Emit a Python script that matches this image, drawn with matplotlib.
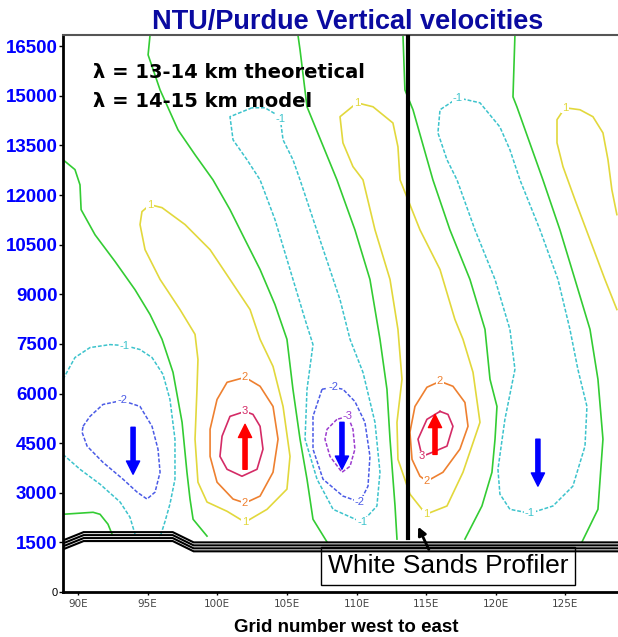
import matplotlib.pyplot as plt

plt.rcParams['font.family'] = ['Liberation Sans', 'DejaVu Sans']

# axis ticks ................................................................
height_ticks = [0, 1500, 3000, 4500, 6000, 7500, 9000, 10500, 12000, 13500, 15000, 16500]
grid_ticks = [90, 95, 100, 105, 110, 115, 120, 125]
grid_labels = ['90E', '95E', '100E', '105E', '110E', '115E', '120E', '125E']

# x = grid number, z = height (m)
# w = 0
w0_a_x = [88.92, 89.78, 90.14, 90.22, 91.22, 92.66, 94.09, 95.17, 96.03, 96.82, 97.47, 97.82, 98.04, 98.26, 99.26]
w0_a_z = [13070, 12770, 12310, 11560, 10800, 9990, 9140, 8390, 7640, 6640, 5130, 3620, 2810, 2200, 1690]
w0_b_x = [95.17, 95.03, 95.89, 97.18, 98.40, 99.69, 100.91, 101.99, 103.07, 104.14, 105.0, 105.43, 105.94, 106.44, 106.87, 107.88]
w0_b_z = [16840, 16240, 15180, 13970, 13220, 12460, 11560, 10650, 9750, 8690, 7640, 6130, 4620, 3410, 2200, 1510]
w0_c_x = [105.79, 105.94, 106.44, 108.59, 109.88, 110.96, 111.68, 112.18, 112.40, 112.76, 112.90]
w0_c_z = [16840, 16390, 14670, 12460, 10950, 9450, 7640, 6130, 4620, 2600, 1600]
w0_d_x = [113.33, 113.47, 114.05, 115.48, 116.70, 118.14, 119.22, 119.58, 120.08, 119.94, 119.72, 119.0, 117.78]
w0_d_z = [16840, 15180, 14580, 12460, 10950, 9450, 7940, 6430, 5610, 4620, 3620, 2600, 1600]
w0_e_x = [121.37, 121.23, 121.51, 123.38, 124.60, 125.68, 126.76, 127.33, 127.69, 127.33, 126.18]
w0_e_z = [16840, 14970, 14670, 12460, 10950, 9450, 7940, 6430, 4620, 2500, 1510]
w0_f_x = [88.92, 91.08, 91.58, 92.15, 92.44]
w0_f_z = [2350, 2410, 2350, 2050, 1750]

# w = +1
p1_a_x = [95.17, 94.59, 94.45, 94.81, 95.89, 97.32, 98.40, 98.61, 98.54, 98.40, 98.61, 99.26, 100.70, 101.99,
          103.57, 105.0, 105.22, 104.72, 104.0, 103.07, 102.35, 100.91, 99.48, 97.68, 96.03, 95.17]
p1_a_z = [11710, 11500, 11110, 10350, 9450, 8540, 7790, 7030, 6130, 4620, 3320, 2720, 2440, 2110,
          2500, 3110, 4100, 5610, 6820, 7640, 8540, 9450, 10350, 11110, 11620, 11710]
p1_b_x = [110.03, 108.81, 109.02, 109.74, 110.46, 111.32, 112.40, 112.97, 113.26, 112.90, 112.97, 113.83, 114.98,
          116.49, 117.64, 118.86, 118.36, 117.64, 117.06, 115.99, 114.55, 113.12, 112.97, 112.61, 111.18, 110.03]
p1_b_z = [14790, 14370, 13580, 12860, 12460, 10950, 9450, 7940, 6430, 5130, 4010, 2960, 2350,
          2600, 3620, 5130, 6640, 7640, 8240, 9750, 10950, 12460, 13460, 14180, 14670, 14790]
p1_c_x = [128.69, 127.83, 126.76, 125.68, 124.82, 124.39, 124.39, 124.96, 126.04, 126.97, 127.69, 128.05, 128.33, 128.69]
p1_c_z = [8540, 9450, 10650, 11860, 12860, 13580, 14280, 14640, 14580, 14370, 13880, 13070, 12160, 11410]

# w = +2
p2_a_x = [101.99, 100.70, 99.98, 99.48, 99.48, 99.98, 101.13, 101.99, 103.07, 104.0, 104.36, 104.0, 103.07, 101.99]
p2_a_z = [6490, 6340, 5820, 4920, 4100, 3320, 2810, 2690, 2900, 3620, 4620, 5610, 6220, 6490]
p2_b_x = [115.99, 115.05, 114.19, 113.83, 113.98, 114.55, 115.05, 116.20, 117.42, 118.0, 117.78, 116.92, 115.99]
p2_b_z = [6370, 6190, 5610, 4830, 4010, 3500, 3350, 3620, 4320, 5010, 5730, 6220, 6370]

# w = +3
p3_a_x = [101.99, 100.91, 100.34, 100.19, 100.70, 101.77, 102.85, 103.28, 103.07, 102.56, 101.99]
p3_a_z = [5460, 5310, 4710, 4100, 3710, 3500, 3710, 4320, 5010, 5370, 5460]
p3_b_x = [115.99, 115.05, 114.41, 114.70, 115.48, 116.49, 116.92, 116.56, 115.99]
p3_b_z = [5460, 5220, 4620, 4100, 4230, 4410, 5010, 5370, 5460]

# w = -1
n1_a_x = [88.92, 89.78, 90.86, 92.30, 93.37, 94.45, 95.31, 96.10, 96.60, 96.96, 96.96, 96.60, 96.25, 95.89]
n1_a_z = [6430, 7090, 7390, 7480, 7450, 7330, 7090, 6580, 5820, 4620, 3410, 2660, 2140, 1660]
n1_b_x = [88.92, 90.14, 91.58, 93.02, 93.73, 94.09]
n1_b_z = [4160, 3710, 3260, 2720, 2260, 1750]
n1_c_x = [102.49, 100.91, 101.13, 102.13, 103.07, 104.14, 105.22, 106.30, 106.87, 106.44, 106.30, 107.16, 108.31,
          110.39, 111.46, 111.68, 111.32, 110.46, 109.53, 108.81, 107.37, 105.94, 105.43, 104.72, 104.50, 103.42, 102.49]
n1_c_z = [14640, 14370, 13670, 13070, 12460, 11260, 9750, 8240, 7480, 6130, 4620, 3410, 2500,
          2110, 2600, 3620, 5130, 6640, 7640, 8840, 10650, 12460, 13070, 13670, 14370, 14640, 14640]
n1_d_x = [117.28, 115.99, 115.84, 116.49, 117.21, 118.50, 119.94, 121.01, 121.37, 120.65, 120.15, 120.29, 121.01,
          122.45, 124.10, 125.53, 126.40, 126.54, 125.89, 125.32, 124.46, 123.17, 121.73, 121.01, 120.29, 118.86, 117.28]
n1_d_z = [14940, 14580, 13880, 13070, 12460, 10950, 9450, 7940, 6730, 5220, 3710, 2960, 2500,
          2380, 2600, 3200, 4410, 5610, 6730, 7940, 9450, 10950, 12460, 13370, 14060, 14790, 14940]

# w = -2
n2_a_x = [90.36, 90.86, 91.79, 93.16, 94.45, 95.31, 95.74, 95.89, 95.53, 94.95, 94.24, 93.23, 91.79, 90.65, 90.29, 90.36]
n2_a_z = [5010, 5310, 5670, 5790, 5610, 5010, 4320, 3620, 3020, 2810, 3020, 3410, 3920, 4410, 4830, 5010]
n2_b_x = [107.52, 106.87, 106.87, 107.59, 109.02, 110.24, 110.82, 110.96, 110.60, 109.88, 109.02, 108.31, 107.52]
n2_b_z = [6130, 5310, 4320, 3410, 2900, 2720, 3200, 4100, 5130, 5760, 6130, 6190, 6130]

# w = -3
n3_a_x = [108.59, 107.88, 107.73, 108.09, 108.95, 109.53, 109.88, 109.74, 109.38, 108.59]
n3_a_z = [5220, 4920, 4620, 4100, 3620, 3800, 4320, 4920, 5310, 5220]

# contour labels: value, x, z
label_text = ['-1', '-2', '1', '1', '2', '2', '3', '-1', '-1', '-2', '-2', '-3',
              '1', '1', '2', '2', '3', '-1', '-1', '1']
label_x = [93.37, 93.16, 95.17, 101.99, 101.99, 101.99, 101.99, 104.55, 110.39, 108.31, 110.24, 109.38,
           110.03, 114.98, 115.99, 115.05, 114.70, 117.28, 122.45, 124.96]
label_z = [7450, 5790, 11710, 2110, 6490, 2690, 5460, 14300, 2110, 6190, 2720, 5310,
           14790, 2350, 6370, 3350, 4100, 14940, 2380, 14640]

# up / down motion arrows
arrow_x = [93.95, 101.99, 108.95, 115.63, 123.02]
arrow_from = [4980, 3710, 5130, 4160, 4620]
arrow_to = [3560, 5070, 3710, 5370, 3200]

# terrain and profiler
terrain_x = [88.92, 90.4, 96.8, 98.3, 128.77]
terrain_z = [1560, 1810, 1810, 1500, 1500]
profiler_x = 113.69
profiler_base = 1630

level_color = {0: '#33cc33', 1: '#e2d83c', 2: '#ee8030', 3: '#d42b66',
               -1: '#3cc3cc', -2: '#4b5be6', -3: '#9c3ccf'}

lines = [(0, w0_a_x, w0_a_z), (0, w0_b_x, w0_b_z), (0, w0_c_x, w0_c_z), (0, w0_d_x, w0_d_z),
         (0, w0_e_x, w0_e_z), (0, w0_f_x, w0_f_z),
         (1, p1_a_x, p1_a_z), (1, p1_b_x, p1_b_z), (1, p1_c_x, p1_c_z),
         (2, p2_a_x, p2_a_z), (2, p2_b_x, p2_b_z),
         (3, p3_a_x, p3_a_z), (3, p3_b_x, p3_b_z),
         (-1, n1_a_x, n1_a_z), (-1, n1_b_x, n1_b_z), (-1, n1_c_x, n1_c_z), (-1, n1_d_x, n1_d_z),
         (-2, n2_a_x, n2_a_z), (-2, n2_b_x, n2_b_z),
         (-3, n3_a_x, n3_a_z)]

fig = plt.figure(figsize=(6.18, 6.37), dpi=100)
ax = fig.add_axes([63/618., 45/637., 555/618., 557/637.])

for lev, xs, zs in lines:
	if lev < 0:
		ax.plot(xs, zs, color=level_color[lev], lw=1.1, ls=(0, (2.5, 1.2)), zorder=2)
	else:
		ax.plot(xs, zs, color=level_color[lev], lw=1.2, zorder=2)

for t, x, z in zip(label_text, label_x, label_z):
	ax.text(x, z, t, color=level_color[int(t)], fontsize=8, ha='center', va='center', zorder=3,
	        bbox=dict(boxstyle='square,pad=0.05', fc='white', ec='none'))

# motion arrows
for x, z0, z1 in zip(arrow_x, arrow_from, arrow_to):
	c = 'blue' if z1 < z0 else 'red'
	ax.annotate('', xy=(x, z1), xytext=(x, z0), zorder=6,
	            arrowprops=dict(facecolor=c, edgecolor=c, width=3, headwidth=9.5, headlength=9.5, shrink=0))

# terrain drawn as a band of bottom contours
for off in [0, 90, 180, 270]:
	ax.plot(terrain_x, [z - off for z in terrain_z], color='black', lw=1.5, zorder=5, solid_joinstyle='miter')

# profiler line + label box
ax.plot([profiler_x, profiler_x], [profiler_base, 16840], color='black', lw=3, zorder=6)
ax.text(116.56, 785, 'White Sands Profiler', ha='center', va='center', fontsize=19, zorder=4,
        bbox=dict(boxstyle='square,pad=0.27', fc='white', ec='black', lw=1))
ax.annotate('', xy=(114.34, 2050), xytext=(115.27, 1210), zorder=7,
            arrowprops=dict(arrowstyle='-|>', color='black', lw=2, mutation_scale=12))

ax.set_xlim(88.92, 128.77)
ax.set_ylim(0, 16840)
ax.set_xticks(grid_ticks)
ax.set_xticklabels(grid_labels, fontsize=7.5, color='#444444', family='DejaVu Sans')
ax.set_yticks(height_ticks)
ax.set_yticklabels([str(v) for v in height_ticks], fontsize=13.5, color='blue', fontweight='bold')
lab0 = ax.get_yticklabels()[0]
lab0.set_fontsize(8)
lab0.set_color('black')
lab0.set_fontweight('normal')
ax.tick_params(axis='y', length=3, width=1, pad=1)
ax.tick_params(axis='x', length=2, width=1, pad=3)

ax.spines['left'].set_linewidth(2)
ax.spines['bottom'].set_linewidth(2)
ax.spines['top'].set_color('#555555')
ax.spines['top'].set_linewidth(1.5)
ax.spines['right'].set_visible(False)

fig.text(0.563, 1 - 29/637., 'NTU/Purdue Vertical velocities', ha='center', va='baseline',
         fontsize=19.5, fontweight='bold', color='#0a0aa0')
fig.text(93/618., 1 - 78/637., u'\u03bb = 13-14 km theoretical', ha='left', va='baseline',
         fontsize=14, fontweight='bold', family='DejaVu Sans')
fig.text(93/618., 1 - 107/637., u'\u03bb = 14-15 km model', ha='left', va='baseline',
         fontsize=14, fontweight='bold', family='DejaVu Sans')
fig.text(0.560, 1 - 632/637., 'Grid number west to east', ha='center', va='baseline',
         fontsize=13.5, fontweight='bold')

fig.savefig('out.png', dpi=100)
